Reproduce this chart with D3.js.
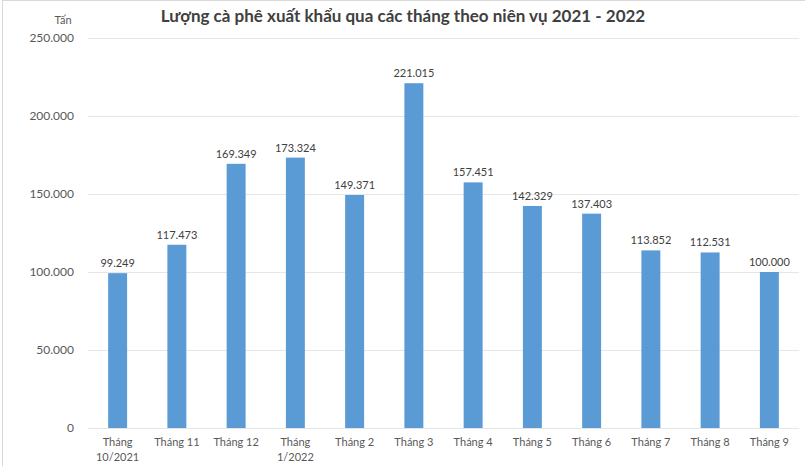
<!DOCTYPE html>
<html>
<head>
<meta charset="UTF-8">
<title>Lượng cà phê xuất khẩu</title>
<script src="https://cdn.jsdelivr.net/npm/d3@7"></script>
<style>
  body { margin: 0; background: #fff; }
  svg { font-family: Lato, "Open Sans", sans-serif; }
</style>
</head>
<body>
<script>
// month labels, "|" splits a label into two lines
var months = ["Tháng|10/2021", "Tháng 11", "Tháng 12", "Tháng|1/2022", "Tháng 2", "Tháng 3",
              "Tháng 4", "Tháng 5", "Tháng 6", "Tháng 7", "Tháng 8", "Tháng 9"];
var tons = [99249, 117473, 169349, 173324, 149371, 221015, 157451, 142329, 137403, 113852, 112531, 100000];
var yTicks = [0, 50000, 100000, 150000, 200000, 250000];

var W = 805, H = 466;
var m = {top: 38, right: 6, bottom: 38, left: 88};

var svg = d3.select("body").append("svg")
  .attr("width", W).attr("height", H);

// outer frame like the excel chart area
svg.append("rect").attr("x", 2.5).attr("y", 0.5).attr("width", W + 2).attr("height", H + 4)
  .attr("fill", "none").attr("stroke", "#d9d9d9");

var x = d3.scaleBand().domain(months).range([m.left, W - m.right]).paddingInner(0.68).paddingOuter(0.34);
var y = d3.scaleLinear().domain([0, 250000]).range([H - m.bottom, m.top]);

var fmt = function(v) { return d3.format(",")(v).replace(/,/g, "."); };

// gridlines
svg.append("g").selectAll("line").data(yTicks).enter().append("line")
  .attr("x1", m.left).attr("x2", W - m.right)
  .attr("y1", function(d) { return y(d) + 0.5; }).attr("y2", function(d) { return y(d) + 0.5; })
  .attr("stroke", "#e6e6e6").attr("stroke-width", 1);

// y axis labels
var yAxis = svg.append("g").attr("transform", "translate(" + (m.left - 14) + ",0)")
  .call(d3.axisLeft(y).tickValues(yTicks).tickSize(0).tickPadding(0).tickFormat(fmt));
yAxis.select(".domain").remove();
yAxis.selectAll("text").attr("fill", "#595959").style("font-size", "12px").style("font-family", "Lato, sans-serif");

svg.append("text").attr("x", 63).attr("y", 24).attr("text-anchor", "middle")
  .attr("fill", "#595959").style("font-size", "11px").text("Tấn");

// title
svg.append("text").attr("x", 403).attr("y", 22).attr("text-anchor", "middle")
  .attr("fill", "#404040").style("font-size", "17px").style("font-weight", "bold")
  .text("Lượng cà phê xuất khẩu qua các tháng theo niên vụ 2021 - 2022");

// bars
svg.append("g").selectAll("rect").data(tons).enter().append("rect")
  .attr("x", function(d, i) { return x(months[i]); })
  .attr("width", x.bandwidth())
  .attr("y", function(d) { return y(d); })
  .attr("height", function(d) { return y(0) - y(d); })
  .attr("fill", "#5b9bd5");

// value labels
svg.append("g").selectAll("text").data(tons).enter().append("text")
  .attr("x", function(d, i) { return x(months[i]) + x.bandwidth() / 2; })
  .attr("y", function(d) { return y(d) - 6; })
  .attr("text-anchor", "middle").attr("fill", "#404040").style("font-size", "11px")
  .text(fmt);

// x labels
var xl = svg.append("g").selectAll("text").data(months).enter().append("text")
  .attr("x", function(d) { return x(d) + x.bandwidth() / 2; })
  .attr("y", H - m.bottom + 18)
  .attr("text-anchor", "middle").attr("fill", "#595959").style("font-size", "11px");
xl.each(function(d) {
  var t = d3.select(this);
  d.split("|").forEach(function(s, k) {
    t.append("tspan").attr("x", t.attr("x")).attr("dy", k ? 15 : 0).text(s);
  });
});
</script>
</body>
</html>
